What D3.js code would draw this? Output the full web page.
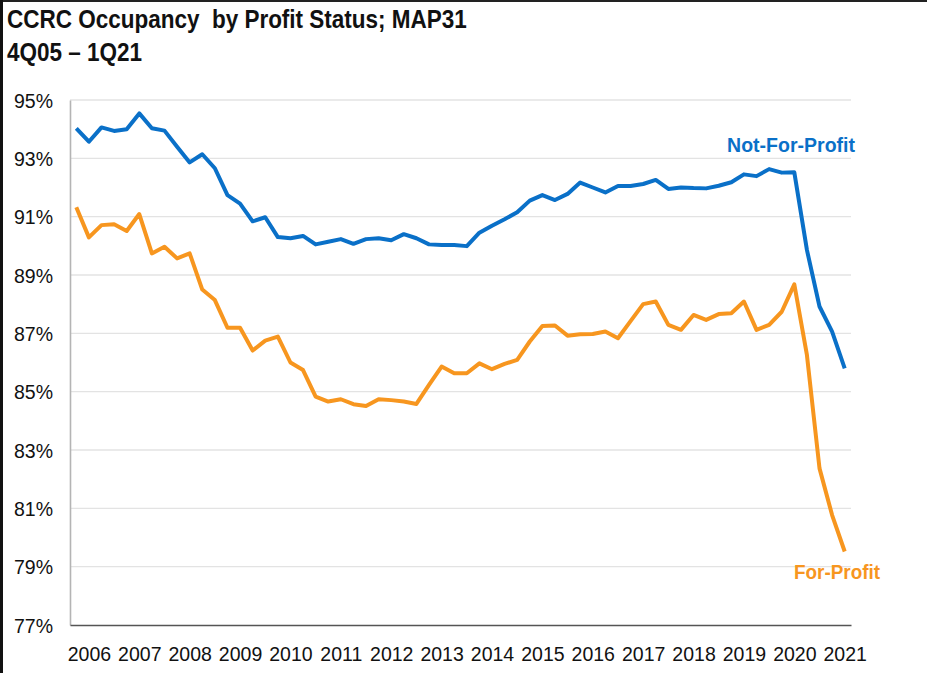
<!DOCTYPE html>
<html>
<head>
<meta charset="utf-8">
<script src="https://cdn.jsdelivr.net/npm/d3@7/dist/d3.min.js"></script>
<style>
  html, body { margin: 0; padding: 0; background: #fff; }
  svg { display: block; }
  .narrow { font-family: 'Liberation Sans Narrow', 'Arial Narrow', 'Liberation Sans', Arial, sans-serif; font-weight: bold; white-space: pre; }
  .tick-label { font-family: 'Liberation Sans', Arial, sans-serif; font-size: 19.5px; fill: #111; }
</style>
</head>
<body>
<div id="chart"></div>
<script>
(function () {
  'use strict';

  const quarters = [
    '4Q05',
    '1Q06', '2Q06', '3Q06', '4Q06', '1Q07', '2Q07', '3Q07', '4Q07',
    '1Q08', '2Q08', '3Q08', '4Q08', '1Q09', '2Q09', '3Q09', '4Q09',
    '1Q10', '2Q10', '3Q10', '4Q10', '1Q11', '2Q11', '3Q11', '4Q11',
    '1Q12', '2Q12', '3Q12', '4Q12', '1Q13', '2Q13', '3Q13', '4Q13',
    '1Q14', '2Q14', '3Q14', '4Q14', '1Q15', '2Q15', '3Q15', '4Q15',
    '1Q16', '2Q16', '3Q16', '4Q16', '1Q17', '2Q17', '3Q17', '4Q17',
    '1Q18', '2Q18', '3Q18', '4Q18', '1Q19', '2Q19', '3Q19', '4Q19',
    '1Q20', '2Q20', '3Q20', '4Q20', '1Q21'
  ];

  const notForProfit = [
    94.03,
    93.57, 94.06, 93.94, 94.00, 94.54, 94.03, 93.95, 93.40,
    92.86, 93.14, 92.66, 91.74, 91.45, 90.84, 90.98, 90.30,
    90.26, 90.34, 90.05, 90.14, 90.23, 90.07, 90.23, 90.26,
    90.19, 90.40, 90.26, 90.05, 90.03, 90.03, 89.99, 90.45,
    90.69, 90.91, 91.15, 91.55, 91.74, 91.57, 91.78, 92.17,
    92.00, 91.83, 92.05, 92.05, 92.12, 92.26, 91.95, 92.00,
    91.98, 91.97, 92.06, 92.18, 92.45, 92.39, 92.63, 92.51,
    92.52, 89.86, 87.92, 87.06, 85.80
  ];

  const forProfit = [
    91.32,
    90.29, 90.71, 90.74, 90.51, 91.09, 89.74, 89.97, 89.57,
    89.74, 88.50, 88.14, 87.19, 87.19, 86.41, 86.75, 86.89,
    86.00, 85.74, 84.83, 84.66, 84.74, 84.57, 84.51, 84.74,
    84.71, 84.66, 84.58, 85.23, 85.86, 85.63, 85.63, 85.97,
    85.77, 85.95, 86.09, 86.72, 87.25, 87.27, 86.92, 86.97,
    86.98, 87.06, 86.83, 87.42, 88.00, 88.09, 87.29, 87.12,
    87.63, 87.46, 87.66, 87.69, 88.09, 87.12, 87.29, 87.74,
    88.68, 86.26, 82.37, 80.77, 79.52
  ];

  const yearLabels = ['2006', '2007', '2008', '2009', '2010', '2011', '2012', '2013',
    '2014', '2015', '2016', '2017', '2018', '2019', '2020', '2021'];
  const yTicks = [77, 79, 81, 83, 85, 87, 89, 91, 93, 95];

  const width = 927;
  const height = 673;
  const left = 70;
  const right = 851;
  const top = 100;
  const bottom = 625;

  const blue = '#0a70c8';
  const orange = '#f7961f';

  const svg = d3.select('#chart')
    .append('svg')
    .attr('width', width)
    .attr('height', height);

  // frame (top and left edges visible)
  svg.append('line').attr('x1', 0).attr('x2', width).attr('y1', 1).attr('y2', 1)
    .attr('stroke', '#222').attr('stroke-width', 2);
  svg.append('line').attr('x1', 1.5).attr('x2', 1.5).attr('y1', 0).attr('y2', height)
    .attr('stroke', '#111').attr('stroke-width', 3);

  // condensed bold text (no narrow font installed, so squeeze horizontally)
  function narrowText(x, y, txt, size, fill, anchor, squeeze) {
    svg.append('g')
      .attr('transform', 'translate(' + x + ',' + y + ') scale(' + squeeze + ',1)')
      .append('text')
      .attr('class', 'narrow')
      .attr('text-anchor', anchor)
      .style('font-size', size + 'px')
      .attr('fill', fill)
      .text(txt);
  }

  narrowText(7, 28, 'CCRC Occupancy  by Profit Status; MAP31', 25, '#111', 'start', 0.9);
  narrowText(7, 61, '4Q05 \u2013 1Q21', 25, '#111', 'start', 0.9);

  const xScale = d3.scalePoint()
    .domain(quarters)
    .range([left, right])
    .padding(0.5);

  const yScale = d3.scaleLinear()
    .domain([77, 95])
    .range([bottom, top]);

  // gridlines
  svg.append('g')
    .selectAll('line')
    .data(yTicks.filter(d => d !== 77))
    .enter()
    .append('line')
    .attr('x1', left).attr('x2', right)
    .attr('y1', d => yScale(d)).attr('y2', d => yScale(d))
    .attr('stroke', '#e3e3e3')
    .attr('stroke-width', 1.3);

  // y axis
  const yAxis = d3.axisLeft(yScale)
    .tickValues(yTicks)
    .tickSize(0)
    .tickPadding(17)
    .tickFormat(d => d + '%');

  const gy = svg.append('g')
    .attr('transform', 'translate(' + left + ',0)')
    .call(yAxis);
  gy.select('.domain').attr('stroke', '#b4b4b4').attr('stroke-width', 1.6);
  gy.selectAll('text').attr('class', 'tick-label').attr('dy', '0.36em');

  // x axis
  const xAxis = d3.axisBottom(xScale)
    .tickValues(quarters.filter(q => q.startsWith('1Q')))
    .tickSize(0)
    .tickPadding(22)
    .tickFormat((q, i) => yearLabels[i]);

  const gx = svg.append('g')
    .attr('transform', 'translate(0,' + bottom + ')')
    .call(xAxis);
  gx.select('.domain').attr('stroke', '#555').attr('stroke-width', 1.3);
  gx.selectAll('text').attr('class', 'tick-label').attr('dy', '0.71em');

  // lines
  const line = d3.line()
    .x((d, i) => xScale(quarters[i]))
    .y(d => yScale(d));

  svg.append('path')
    .datum(forProfit)
    .attr('fill', 'none')
    .attr('stroke', orange)
    .attr('stroke-width', 4)
    .attr('stroke-linejoin', 'round')
    .attr('d', line);

  svg.append('path')
    .datum(notForProfit)
    .attr('fill', 'none')
    .attr('stroke', blue)
    .attr('stroke-width', 4)
    .attr('stroke-linejoin', 'round')
    .attr('d', line);

  // series labels
  narrowText(855, 152, 'Not-For-Profit', 21, blue, 'end', 0.93);
  narrowText(880, 579, 'For-Profit', 21, orange, 'end', 0.9);
}());
</script>
</body>
</html>
